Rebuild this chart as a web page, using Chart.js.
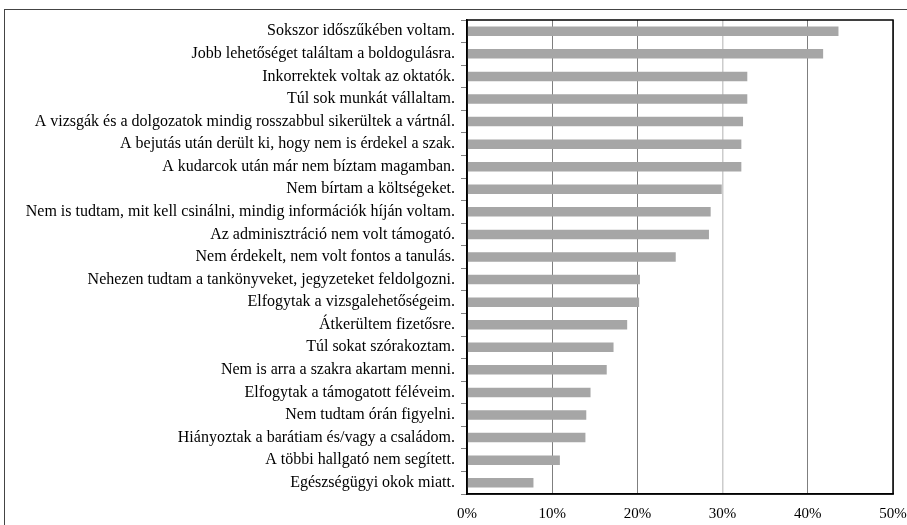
<!DOCTYPE html>
<html>
<head>
<meta charset="utf-8">
<script src="https://cdn.jsdelivr.net/npm/chart.js@4/dist/chart.umd.min.js"></script>
<style>
  html, body { margin: 0; padding: 0; background: #fff; }
  #wrap { position: relative; width: 907px; height: 525px; }
  #frame { position: absolute; left: 4px; top: 9px; right: 0; bottom: 0;
           border-left: 1px solid #444; border-top: 1px solid #444; }
  canvas { position: absolute; left: 0; top: 0; }
</style>
</head>
<body>
<div id="wrap">
  <div id="frame"></div>
  <canvas id="bar-chart" width="907" height="525"></canvas>
</div>
<script>
var reasons = [
  "Sokszor időszűkében voltam.",
  "Jobb lehetőséget találtam a boldogulásra.",
  "Inkorrektek voltak az oktatók.",
  "Túl sok munkát vállaltam.",
  "A vizsgák és a dolgozatok mindig rosszabbul sikerültek a vártnál.",
  "A bejutás után derült ki, hogy nem is érdekel a szak.",
  "A kudarcok után már nem bíztam magamban.",
  "Nem bírtam a költségeket.",
  "Nem is tudtam, mit kell csinálni, mindig információk híján voltam.",
  "Az adminisztráció nem volt támogató.",
  "Nem érdekelt, nem volt fontos a tanulás.",
  "Nehezen tudtam a tankönyveket, jegyzeteket feldolgozni.",
  "Elfogytak a vizsgalehetőségeim.",
  "Átkerültem fizetősre.",
  "Túl sokat szórakoztam.",
  "Nem is arra a szakra akartam menni.",
  "Elfogytak a támogatott féléveim.",
  "Nem tudtam órán figyelni.",
  "Hiányoztak a barátiam és/vagy a családom.",
  "A többi hallgató nem segített.",
  "Egészségügyi okok miatt."
];
var percentages = [43.6, 41.8, 32.9, 32.9, 32.4, 32.2, 32.2, 29.9, 28.6, 28.4, 24.5,
                   20.3, 20.2, 18.8, 17.2, 16.4, 14.5, 14.0, 13.9, 10.9, 7.8];
var xTicks = [0, 10, 20, 30, 40, 50];

var serif = "'Liberation Serif', 'DejaVu Serif', serif";

// black box round the plot area
var plotBox = {
  id: "plotBox",
  afterDraw: function (chart) {
    var a = chart.chartArea;
    var c = chart.ctx;
    c.save();
    c.strokeStyle = "#000";
    c.lineWidth = 1.5;
    c.strokeRect(a.left, a.top, a.right - a.left, a.bottom - a.top);
    c.restore();
  }
};

const data = {
  labels: reasons,
  datasets: [
    {
      data: percentages,
      backgroundColor: "#a6a6a6",
      borderWidth: 0,
      barPercentage: 0.84,
      categoryPercentage: 0.5
    }
  ]
};

const config = {
  type: "bar",
  data: data,
  plugins: [plotBox],
  options: {
    indexAxis: "y",
    responsive: false,
    animation: false,
    layout: { padding: { top: 20, right: 0, left: 0, bottom: 0 } },
    plugins: { legend: { display: false }, tooltip: { enabled: false } },
    scales: {
      x: {
        min: 0,
        max: 50,
        z: 1,
        afterBuildTicks: function (scale) {
          scale.ticks = xTicks.map(function (v) { return { value: v }; });
        },
        afterFit: function (scale) {
          scale.height = 31;
          scale.paddingRight = 14;
        },
        grid: {
          drawTicks: false,
          color: function (ctx) {
            return ctx.tick && ctx.tick.value === 30 ? "#cccccc" : "#7f7f7f";
          },
          lineWidth: function (ctx) {
            return ctx.tick && ctx.tick.value === 30 ? 1.5 : 1;
          }
        },
        border: { color: "#000", width: 1.5 },
        ticks: {
          padding: 11,
          color: "#000",
          font: { family: serif, size: 15 },
          callback: function (v) { return v + "%"; }
        }
      },
      y: {
        afterFit: function (scale) { scale.width = 467; },
        grid: {
          offset: true,
          drawOnChartArea: false,
          tickLength: 6,
          color: "#808080"
        },
        border: { color: "#000", width: 1.5 },
        ticks: {
          padding: 6,
          color: "#000",
          autoSkip: false,
          font: { family: serif, size: 16 }
        }
      }
    }
  }
};

var myChart = new Chart(document.getElementById("bar-chart"), config);
</script>
</body>
</html>
